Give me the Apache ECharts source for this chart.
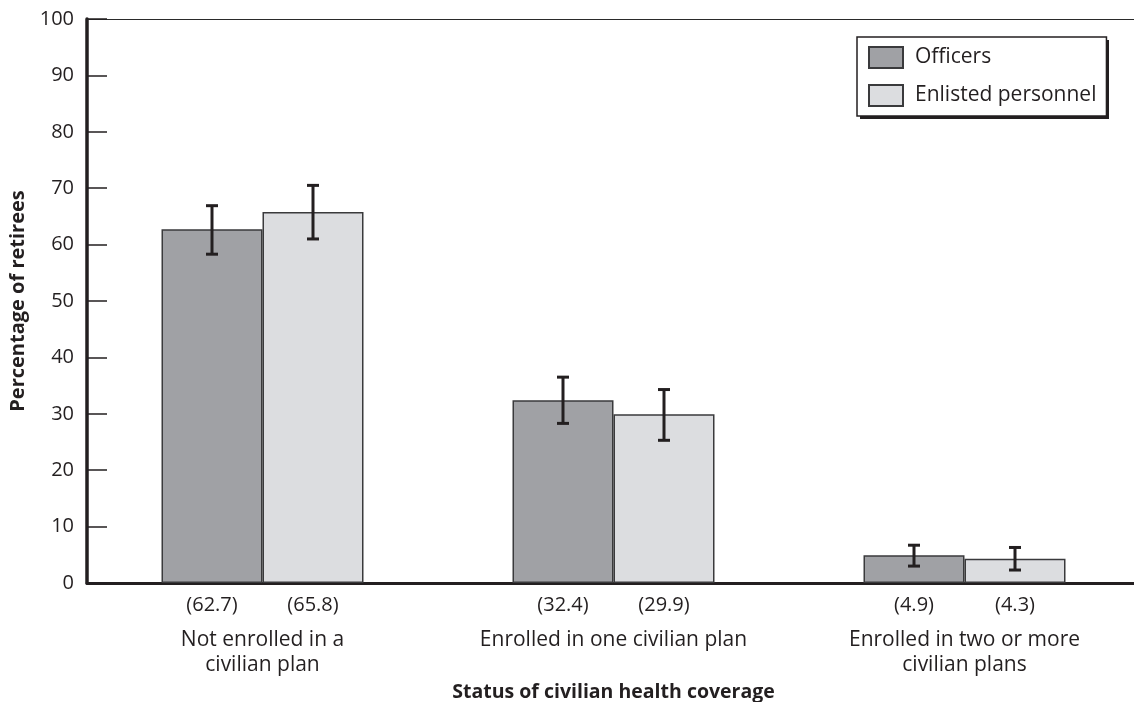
<!DOCTYPE html>
<html>
<head>
<meta charset="utf-8">
<script src="https://cdn.jsdelivr.net/npm/echarts@6/dist/echarts.min.js"></script>
<style>
html,body{margin:0;padding:0;background:#fff;}
#chart{width:1134px;height:702px;}
</style>
</head>
<body>
<div id="chart"></div>
<script>
const categories = ['Not enrolled in a\ncivilian plan', 'Enrolled in one civilian plan', 'Enrolled in two or more\ncivilian plans'];
const seriesNames = ['Officers', 'Enlisted personnel'];
const officers = [62.7, 32.4, 4.9];
const enlisted = [65.8, 29.9, 4.3];
const officersLow = [58.3, 28.3, 3.0];
const officersHigh = [66.9, 36.5, 6.7];
const enlistedLow = [61.0, 25.3, 2.3];
const enlistedHigh = [70.5, 34.3, 6.3];
const yTicks = [0, 10, 20, 30, 40, 50, 60, 70, 80, 90, 100];

const FONT = '"Open Sans", "Noto Sans", sans-serif';
const TXT = '#231f20';
const BAR_W = 101;

function errData(lo, hi) {
  return lo.map((v, i) => [i, v, hi[i]]);
}
function errRender(sign) {
  return function (params, api) {
    const i = api.value(0);
    const lo = api.coord([i, api.value(1)]);
    const hi = api.coord([i, api.value(2)]);
    const x = lo[0] + sign * BAR_W / 2;
    const cap = 6;
    const st = { stroke: '#231f20', lineWidth: 3 };
    return {
      type: 'group',
      children: [
        { type: 'line', shape: { x1: x, y1: lo[1], x2: x, y2: hi[1] }, style: st },
        { type: 'line', shape: { x1: x - cap, y1: lo[1], x2: x + cap, y2: lo[1] }, style: st },
        { type: 'line', shape: { x1: x - cap, y1: hi[1], x2: x + cap, y2: hi[1] }, style: st }
      ]
    };
  };
}

const barLabel = {
  show: true,
  position: 'bottom',
  distance: 12,
  color: TXT,
  fontFamily: FONT,
  fontSize: 20,
  formatter: p => '(' + Number(p.value).toFixed(1) + ')'
};

const chart = echarts.init(document.getElementById('chart'), null, { renderer: 'canvas' });
chart.setOption({
  animation: false,
  backgroundColor: '#fff',
  textStyle: { fontFamily: FONT, color: TXT },
  grid: { left: 87, right: -6, top: 19, bottom: 119, containLabel: false, outerBoundsMode: 'none' },
  graphic: [{
    type: 'rect',
    left: 860,
    top: 40,
    shape: { width: 249, height: 79 },
    style: { fill: '#231f20' },
    z: 0
  }],
  legend: {
    data: seriesNames,
    orient: 'vertical',
    left: 857,
    top: 37,
    padding: [9, 10, 9, 11],
    itemWidth: 34,
    itemHeight: 21,
    itemGap: 15,
    icon: 'rect',
    backgroundColor: '#fff',
    borderColor: '#231f20',
    borderWidth: 1.5,
    borderRadius: 0,
    z: 10,
    textStyle: { fontFamily: FONT, fontSize: 21, color: TXT, padding: [0, 0, 0, 7] }
  },
  xAxis: [{
    type: 'category',
    data: categories,
    position: 'bottom',
    name: 'Status of civilian health coverage',
    nameLocation: 'middle',
    nameGap: 97,
    nameTextStyle: { fontFamily: FONT, fontSize: 19.5, fontWeight: 'bold', color: TXT },
    axisLine: { lineStyle: { color: '#231f20', width: 3 } },
    axisTick: { show: false },
    axisLabel: { margin: 45, fontFamily: FONT, fontSize: 21, color: TXT, lineHeight: 25, interval: 0 },
    splitLine: { show: false }
  }, {
    type: 'category',
    data: categories,
    position: 'top',
    axisLine: { lineStyle: { color: '#2a2a2a', width: 1.2 } },
    axisTick: { show: false },
    axisLabel: { show: false }
  }],
  yAxis: {
    type: 'value',
    min: 0,
    max: 100,
    interval: 10,
    name: 'Percentage of retirees',
    nameLocation: 'middle',
    nameGap: 59,
    nameTextStyle: { fontFamily: FONT, fontSize: 20, fontWeight: 'bold', color: TXT },
    axisLine: { show: true, lineStyle: { color: '#231f20', width: 3.5 } },
    axisTick: { show: true, inside: true, length: 20, lineStyle: { color: '#231f20', width: 1.5 } },
    axisLabel: { margin: 13, fontFamily: FONT, fontSize: 20, color: TXT,
      formatter: v => yTicks.indexOf(v) >= 0 ? String(v) : '' },
    splitLine: { show: false }
  },
  series: [{
    name: seriesNames[0],
    type: 'bar',
    data: officers,
    barWidth: BAR_W,
    barGap: '0%',
    itemStyle: { color: '#a0a1a5', borderColor: '#3a3a3c', borderWidth: 1.5 },
    label: barLabel
  }, {
    name: seriesNames[1],
    type: 'bar',
    data: enlisted,
    barWidth: BAR_W,
    barGap: '0%',
    itemStyle: { color: '#dcdde0', borderColor: '#3a3a3c', borderWidth: 1.5 },
    label: barLabel
  }, {
    type: 'custom',
    z: 5,
    renderItem: errRender(-1),
    encode: { x: 0, y: [1, 2] },
    data: errData(officersLow, officersHigh)
  }, {
    type: 'custom',
    z: 5,
    renderItem: errRender(1),
    encode: { x: 0, y: [1, 2] },
    data: errData(enlistedLow, enlistedHigh)
  }]
});
</script>
</body>
</html>
